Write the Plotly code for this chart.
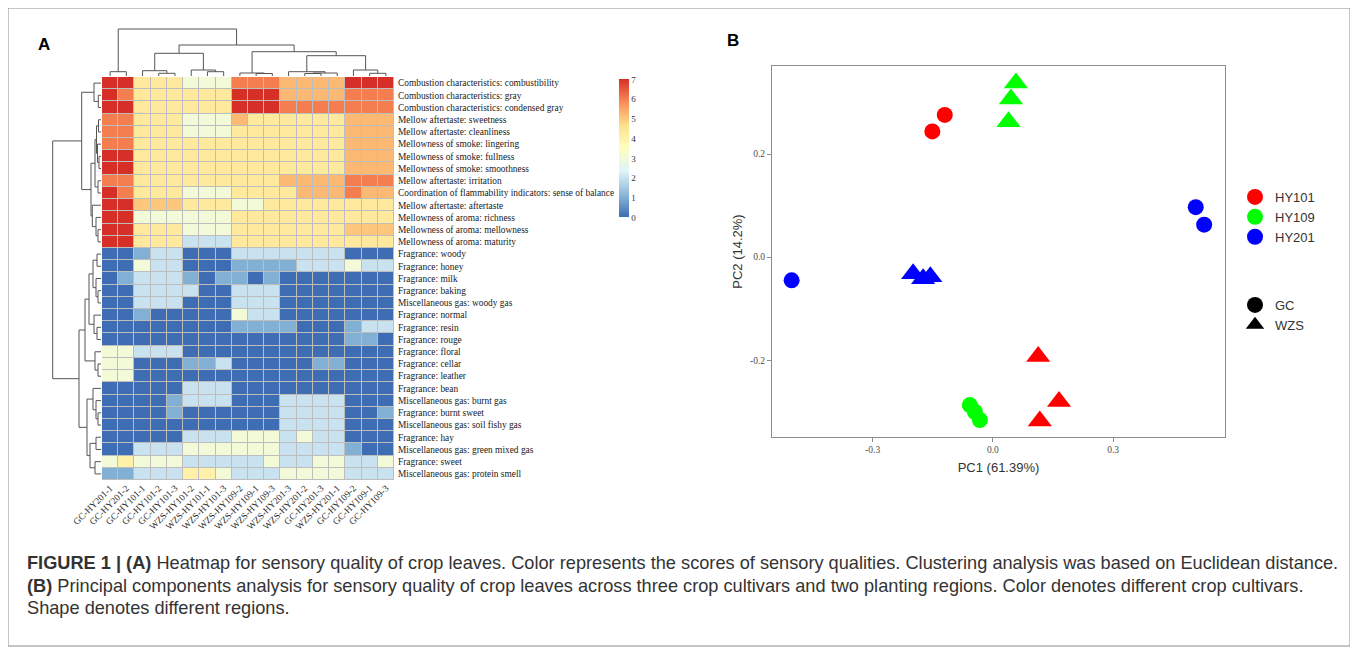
import plotly.graph_objects as go

# page body has an 8px margin: figure is drawn at (8, 8)
OFF = 8
W, H = 1350, 642

def px(x):
    return (x - OFF) / W

def py(y):
    return 1 - (y - OFF) / H

# ---------------- data ----------------
col_labels = ["GC-HY201-1", "GC-HY201-2", "GC-HY101-1", "GC-HY101-2", "GC-HY101-3",
              "WZS-HY101-2", "WZS-HY101-1", "WZS-HY101-3", "WZS-HY109-2", "WZS-HY109-1",
              "WZS-HY109-3", "WZS-HY201-3", "WZS-HY201-2", "GC-HY201-3", "WZS-HY201-1",
              "GC-HY109-2", "GC-HY109-1", "GC-HY109-3"]

row_labels = [
    "Combustion characteristics: combustibility",
    "Combustion characteristics: gray",
    "Combustion characteristics: condensed gray",
    "Mellow aftertaste: sweetness",
    "Mellow aftertaste: cleanliness",
    "Mellowness of smoke: lingering",
    "Mellowness of smoke: fullness",
    "Mellowness of smoke: smoothness",
    "Mellow aftertaste: irritation",
    "Coordination of flammability indicators: sense of balance",
    "Mellow aftertaste: aftertaste",
    "Mellowness of aroma: richness",
    "Mellowness of aroma: mellowness",
    "Mellowness of aroma: maturity",
    "Fragrance: woody",
    "Fragrance: honey",
    "Fragrance: milk",
    "Fragrance: baking",
    "Miscellaneous gas: woody gas",
    "Fragrance: normal",
    "Fragrance: resin",
    "Fragrance: rouge",
    "Fragrance: floral",
    "Fragrance: cellar",
    "Fragrance: leather",
    "Fragrance: bean",
    "Miscellaneous gas: burnt gas",
    "Fragrance: burnt sweet",
    "Miscellaneous gas: soil fishy gas",
    "Fragrance: hay",
    "Miscellaneous gas: green mixed gas",
    "Fragrance: sweet",
    "Miscellaneous gas: protein smell",
]

scores = [
    [7, 7, 4.3, 4.3, 4.3, 3, 3, 3, 6, 6, 6, 5.2, 5.2, 5.2, 5.2, 7, 7, 7],
    [7, 6, 4.3, 4.3, 4.3, 4.3, 4.3, 4.3, 7, 7, 7, 5.2, 5.2, 5.2, 5.2, 6, 6, 6],
    [7, 7, 4.3, 4.3, 4.3, 4.3, 4.3, 4.3, 7, 7, 7, 6, 6, 6, 6, 6, 6, 6],
    [6, 6, 4.3, 4.3, 4.3, 3, 3, 3, 5.2, 4.3, 4.3, 4.3, 4.3, 4.3, 4.3, 5.2, 5.2, 5.2],
    [6, 6, 4.3, 4.3, 4.3, 3, 3, 3, 4.3, 4.3, 4.3, 4.3, 4.3, 4.3, 4.3, 5.2, 5.2, 5.2],
    [6, 6, 4.3, 4.3, 4.3, 4.3, 4.3, 4.3, 4.3, 4.3, 4.3, 4.3, 4.3, 4.3, 4.3, 5.2, 5.2, 5.2],
    [7, 7, 4.3, 4.3, 4.3, 4.3, 4.3, 4.3, 4.3, 4.3, 4.3, 4.3, 4.3, 4.3, 4.3, 5.2, 5.2, 5.2],
    [7, 7, 4.3, 4.3, 4.3, 4.3, 4.3, 4.3, 4.3, 4.3, 4.3, 4.3, 4.3, 4.3, 4.3, 5.2, 5.2, 5.2],
    [6, 6, 4.3, 4.3, 4.3, 4.3, 4.3, 4.3, 4.3, 4.3, 4.3, 5.2, 5.2, 5.2, 5.2, 6, 6, 6],
    [7, 6, 4.3, 4.3, 4.3, 3, 3, 3, 4.3, 4.3, 4.3, 4.3, 5.2, 5.2, 5.2, 6, 5.2, 5.2],
    [7, 7, 5, 5, 5, 4.3, 4.3, 4.3, 3, 3, 4.3, 4.3, 4.3, 4.3, 4.3, 4.3, 4.3, 4.3],
    [7, 7, 3, 3, 3, 3, 3, 3, 4.3, 4.3, 4.3, 4.3, 4.3, 4.3, 4.3, 4.3, 4.3, 4.3],
    [7, 7, 4.3, 4.3, 4.3, 3, 3, 3, 4.3, 4.3, 4.3, 4.3, 4.3, 4.3, 4.3, 5, 5, 5],
    [7, 7, 4.3, 4.3, 4.3, 2, 2, 2, 4.3, 4.3, 4.3, 4.3, 4.3, 4.3, 4.3, 4.3, 4.3, 4.3],
    [0, 0, 1, 2, 2, 0, 0, 0, 2, 2, 2, 2, 2, 2, 2, 0, 0, 0],
    [0, 0, 3, 2, 2, 0, 0, 0, 1, 1, 1, 1, 2, 2, 2, 3, 2, 2],
    [0, 1, 2, 2, 2, 1, 0, 1, 1, 0, 1, 0, 0, 0, 0, 0, 0, 0],
    [0, 0, 2, 2, 2, 2, 0, 0, 2, 2, 2, 0, 0, 0, 0, 0, 0, 0],
    [0, 0, 2, 2, 2, 0, 0, 0, 2, 2, 2, 0, 0, 0, 0, 0, 0, 0],
    [0, 0, 1, 0, 0, 0, 0, 0, 3, 2, 2, 0, 0, 0, 0, 0, 0, 0],
    [0, 0, 0, 0, 0, 0, 0, 0, 1, 1, 1, 1, 0, 0, 0, 1, 2, 2],
    [0, 0, 0, 0, 0, 0, 0, 0, 0, 0, 0, 0, 0, 0, 0, 1, 1, 0],
    [3, 3, 2, 2, 2, 0, 0, 0, 0, 0, 0, 0, 0, 0, 0, 0, 0, 0],
    [3, 3, 0, 0, 0, 1, 1, 2, 0, 0, 0, 0, 0, 1, 1, 0, 0, 0],
    [3, 3, 0, 0, 0, 0, 0, 0, 0, 0, 0, 0, 0, 0, 0, 0, 0, 0],
    [0, 0, 0, 0, 0, 2, 2, 2, 0, 0, 0, 0, 0, 0, 0, 0, 0, 0],
    [0, 0, 0, 0, 1, 2, 2, 2, 0, 0, 0, 2, 2, 2, 2, 0, 0, 0],
    [0, 0, 0, 0, 1, 0, 0, 0, 0, 0, 0, 2, 2, 2, 2, 0, 0, 1],
    [0, 0, 0, 0, 0, 0, 0, 0, 0, 0, 0, 2, 2, 2, 2, 0, 0, 0],
    [0, 0, 0, 0, 0, 2, 2, 2, 3, 3, 3, 2, 3, 2, 2, 0, 0, 0],
    [0, 0, 2, 2, 2, 3, 3, 3, 3, 3, 3, 2, 2, 2, 2, 1, 0, 0],
    [3, 4, 3, 3, 3, 2, 2, 2, 2, 2, 3, 2, 2, 3, 3, 2, 2, 3],
    [1, 1, 2, 2, 2, 4, 4, 3, 2, 2, 2, 3, 3, 3, 3, 2, 2, 2],
]

colorbar_ticks = [0, 1, 2, 3, 4, 5, 6, 7]

# column dendrogram (height, left, right); leaves = column positions
col_tree = (47,
            (4.3, 0, 1),
            (31,
             (22.7, (5.3, 2, (2.7, 3, 4)), (6, 5, (4.3, 6, 7))),
             (24.3,
              (3, 8, (2.5, 9, 10)),
              (20.3, (4.3, 11, (3, (2.5, 12, 13), 14)), (6, 15, (2.7, 16, 17))))))

# row dendrogram (height, left, right); leaves = row positions
row_tree = (48.3,
            (19.3,
             (7, 0, (2.7, 1, 2)),
             (10,
              (6, (4.5, (2.5, 3, 4), (3.5, 5, (2, 6, 7))), (3, 8, 9)),
              (8.7, 10, (5, 11, (3, 12, 13))))),
            (22,
             (16,
              (12, (8, (4, 14, 15), (5, 16, (3, 17, 18))), (7, 19, (4, 20, 21))),
              (6, 22, (3, 23, 24))),
             (14,
              (8, 25, (5, 26, (3, 27, 28))),
              (11, (5, 29, 30), (6, 31, 32)))))

# PCA scores
pca_groups = ["HY101", "HY109", "HY201"]
pca_colors = {"HY101": "#FF0000", "HY109": "#00FF00", "HY201": "#0000FF"}
gc_pc1 = {"HY101": [-0.120, -0.151], "HY109": [-0.0575, -0.045, -0.0325], "HY201": [-0.502, 0.506, 0.527]}
gc_pc2 = {"HY101": [0.276, 0.244], "HY109": [-0.287, -0.300, -0.316], "HY201": [-0.045, 0.097, 0.063]}
wzs_pc1 = {"HY101": [0.113, 0.165, 0.117], "HY109": [0.0575, 0.045, 0.039], "HY201": [-0.199, -0.174, -0.156]}
wzs_pc2 = {"HY101": [-0.193, -0.280, -0.318], "HY109": [0.338, 0.307, 0.263], "HY201": [-0.032, -0.042, -0.038]}
pc_xticks = [-0.3, 0.0, 0.3]
pc_yticks = [-0.2, 0.0, 0.2]

# ---------------- helpers ----------------
def walk(node, segs):
    if isinstance(node, int):
        return float(node), 0.0
    h, a, b = node
    pa, ha = walk(a, segs)
    pb, hb = walk(b, segs)
    segs.append(((pa, ha), (pa, h), (pb, h), (pb, hb)))
    return (pa + pb) / 2, h


def dendro_xy(tree, horizontal_pos):
    segs = []
    walk(tree, segs)
    xs, ys = [], []
    for s in segs:
        for pos, hh in s:
            if horizontal_pos:
                xs.append(pos); ys.append(hh)
            else:
                xs.append(hh); ys.append(pos)
        xs.append(None); ys.append(None)
    return xs, ys

fig = go.Figure()

SERIF = "Liberation Serif, Times New Roman, serif"
SANS = "Liberation Sans, Arial, sans-serif"

# ---------------- heatmap ----------------
colorscale = [[0, "#3E6DB3"], [1 / 6, "#8DBADA"], [2 / 6, "#E0F3F8"], [3 / 6, "#FFFFBF"],
              [4 / 6, "#FEDF8C"], [5 / 6, "#F98B57"], [1, "#D62F27"]]
fig.add_trace(go.Heatmap(
    z=scores, x=list(range(len(col_labels))), y=list(range(len(row_labels))),
    colorscale=colorscale, zmin=0, zmax=7, xgap=1, ygap=1,
    xaxis="x", yaxis="y",
    colorbar=dict(x=px(619), xanchor="left", y=py(148.5), yanchor="middle",
                  len=138 / H, lenmode="fraction", thickness=10, outlinewidth=0,
                  xpad=0, ypad=0, tickvals=colorbar_ticks, ticks="",
                  tickfont=dict(family=SERIF, size=9, color="#333333")),
))
fig.add_shape(type="rect", xref="x", yref="y", x0=-0.5, x1=len(col_labels) - 0.5,
              y0=-0.5, y1=len(row_labels) - 0.5, fillcolor="#BDBDBD",
              line=dict(width=0), layer="below")

# ---------------- dendrograms ----------------
cx, cy = dendro_xy(col_tree, True)
fig.add_trace(go.Scatter(x=cx, y=cy, mode="lines", line=dict(color="#555555", width=1),
                         xaxis="x2", yaxis="y2", showlegend=False, hoverinfo="skip"))
rx, ry = dendro_xy(row_tree, False)
fig.add_trace(go.Scatter(x=rx, y=ry, mode="lines", line=dict(color="#555555", width=1),
                         xaxis="x3", yaxis="y3", showlegend=False, hoverinfo="skip"))

# ---------------- PCA ----------------
for g in pca_groups:
    fig.add_trace(go.Scatter(x=gc_pc1[g], y=gc_pc2[g], mode="markers",
                             marker=dict(symbol="circle", size=16, color=pca_colors[g]),
                             xaxis="x4", yaxis="y4", showlegend=False))
    fig.add_trace(go.Scatter(x=wzs_pc1[g], y=wzs_pc2[g], mode="markers",
                             marker=dict(symbol="triangle-up", size=21, color=pca_colors[g]),
                             xaxis="x4", yaxis="y4", showlegend=False))
# legends
for g in pca_groups:
    fig.add_trace(go.Scatter(x=[None], y=[None], mode="markers", name=g,
                             marker=dict(symbol="circle", size=16, color=pca_colors[g]),
                             xaxis="x4", yaxis="y4", legend="legend"))
fig.add_trace(go.Scatter(x=[None], y=[None], mode="markers", name="GC",
                         marker=dict(symbol="circle", size=16, color="black"),
                         xaxis="x4", yaxis="y4", legend="legend2"))
fig.add_trace(go.Scatter(x=[None], y=[None], mode="markers", name="WZS",
                         marker=dict(symbol="triangle-up", size=18, color="black"),
                         xaxis="x4", yaxis="y4", legend="legend2"))

hm_x = [px(102), px(394)]
hm_y = [py(480), py(77)]

fig.update_layout(
    template="none",
    width=W, height=H, margin=dict(l=0, r=0, t=0, b=0, autoexpand=False),
    paper_bgcolor="white", plot_bgcolor="white",
    xaxis=dict(domain=hm_x, range=[-0.5, len(col_labels) - 0.5], tickvals=list(range(len(col_labels))),
               ticktext=col_labels, tickangle=-45, showgrid=False, zeroline=False, ticks="",
               automargin=False, showline=False,
               tickfont=dict(family=SERIF, size=9.4, color="#2A2A2A"), anchor="y"),
    yaxis=dict(domain=hm_y, range=[len(row_labels) - 0.5, -0.5], tickvals=list(range(len(row_labels))),
               ticktext=row_labels, side="right", showgrid=False, zeroline=False, ticks="",
               ticklabelstandoff=3, automargin=False, showline=False,
               tickfont=dict(family=SERIF, size=9.4, color="#222222"), anchor="x"),
    xaxis2=dict(domain=hm_x, range=[-0.5, len(col_labels) - 0.5], visible=False, anchor="y2", automargin=False),
    yaxis2=dict(domain=[py(76), py(28)], range=[0, 48], visible=False, anchor="x2", automargin=False),
    xaxis3=dict(domain=[px(20), px(101)], range=[81, 0], visible=False, anchor="y3", automargin=False),
    yaxis3=dict(domain=hm_y, range=[len(row_labels) - 0.5, -0.5], visible=False, anchor="x3", automargin=False),
    xaxis4=dict(domain=[px(772), px(1225)], range=[-0.551, 0.579], anchor="y4", automargin=False,
                tickvals=pc_xticks, ticktext=["%.1f" % v for v in pc_xticks],
                showgrid=False, zeroline=False, showline=True, mirror=True,
                linecolor="#8C8C8C", linewidth=1, ticks="outside", ticklen=4, tickcolor="#8C8C8C",
                tickfont=dict(family=SERIF, size=9.5, color="#4D4D4D"),
                title=dict(text="PC1 (61.39%)", font=dict(family=SANS, size=13, color="#333333"), standoff=8)),
    yaxis4=dict(domain=[py(437), py(66)], range=[-0.349, 0.371], anchor="x4", automargin=False,
                tickvals=pc_yticks, ticktext=["%.1f" % v for v in pc_yticks],
                showgrid=False, zeroline=False, showline=True, mirror=True,
                linecolor="#8C8C8C", linewidth=1, ticks="outside", ticklen=4, tickcolor="#8C8C8C",
                tickfont=dict(family=SERIF, size=9.5, color="#4D4D4D"),
                title=dict(text="PC2 (14.2%)", font=dict(family=SANS, size=13, color="#333333"), standoff=4)),
    legend=dict(x=px(1235), y=py(182), xanchor="left", yanchor="top", bgcolor="rgba(0,0,0,0)",
                font=dict(family=SANS, size=13, color="#333333"), itemsizing="trace",
                tracegroupgap=0, borderwidth=0),
    legend2=dict(x=px(1235), y=py(290), xanchor="left", yanchor="top", bgcolor="rgba(0,0,0,0)",
                 font=dict(family=SANS, size=13, color="#333333"), itemsizing="trace",
                 tracegroupgap=0, borderwidth=0),
)

# panel letters
fig.add_annotation(x=px(44), y=py(45), xref="paper", yref="paper", text="<b>A</b>", showarrow=False,
                   font=dict(family=SANS, size=17, color="black"), xanchor="center", yanchor="middle")
fig.add_annotation(x=px(733), y=py(40), xref="paper", yref="paper", text="<b>B</b>", showarrow=False,
                   font=dict(family=SANS, size=17, color="black"), xanchor="center", yanchor="middle")

caption = [
    "<b>FIGURE 1 | (A)</b> Heatmap for sensory quality of crop leaves. Color represents the scores of sensory qualities. Clustering analysis was based on Euclidean distance.",
    "<b>(B)</b> Principal components analysis for sensory quality of crop leaves across three crop cultivars and two planting regions. Color denotes different crop cultivars.",
    "Shape denotes different regions.",
]
for i, line in enumerate(caption):
    fig.add_annotation(x=px(25), y=py(563 + 22.5 * i), xref="paper", yref="paper", text=line,
                       showarrow=False, xanchor="left", yanchor="middle",
                       font=dict(family=SANS, size=18.2, color="#333333"))

fig.add_shape(type="rect", xref="paper", yref="paper", x0=px(8), x1=px(1350), y0=py(646), y1=py(8),
              line=dict(color="#8C8C8C", width=1), fillcolor="rgba(0,0,0,0)", layer="below")

fig.write_html("out.html")
